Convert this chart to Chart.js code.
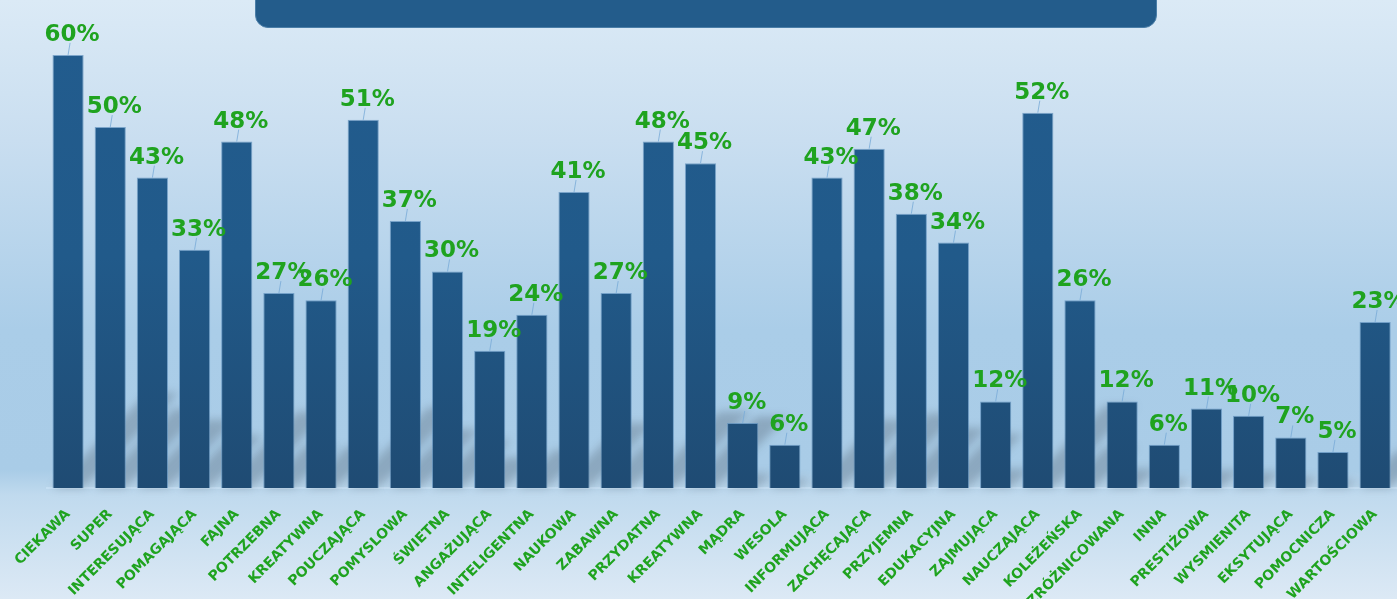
<!DOCTYPE html>
<html>
<head>
<meta charset="utf-8">
<script src="https://cdn.jsdelivr.net/npm/chart.js@4"></script>
<style>
  html, body { margin: 0; padding: 0; }
  body {
    width: 1397px; height: 599px; overflow: hidden; position: relative;
    background: linear-gradient(to bottom, #dbeaf6 0px, #c9def0 140px, #aacde8 330px, #a9cce7 470px, #c0daee 495px, #dce9f5 599px);
  }
  #titleBox {
    position: absolute; left: 255px; top: -14px; width: 900px; height: 40px;
    background: #235c8b; border: 1px solid #4a7ea8; border-radius: 13px;
  }
  #wrap { position: absolute; left: 0; top: 0; }
</style>
</head>
<body>
<div id="titleBox"></div>
<div id="wrap"><canvas id="chart" width="1397" height="599"></canvas></div>
<script>
// Categories and values (percent)
const categories = [
  'CIEKAWA', 'SUPER', 'INTERESUJĄCA', 'POMAGAJĄCA', 'FAJNA', 'POTRZEBNA', 'KREATYWNA',
  'POUCZAJĄCA', 'POMYSLOWA', 'ŚWIETNA', 'ANGAŻUJĄCA', 'INTELIGENTNA', 'NAUKOWA', 'ZABAWNA',
  'PRZYDATNA', 'KREATYWNA', 'MĄDRA', 'WESOLA', 'INFORMUJĄCA', 'ZACHĘCAJĄCA', 'PRZYJEMNA',
  'EDUKACYJNA', 'ZAJMUJĄCA', 'NAUCZAJĄCA', 'KOLEŻEŃSKA', 'ZRÓŻNICOWANA', 'INNA', 'PRESTIŻOWA',
  'WYSMIENITA', 'EKSYTUJĄCA', 'POMOCNICZA', 'WARTOŚCIOWA'
];
const values = [
  60, 50, 43, 33, 48, 27, 26,
  51, 37, 30, 19, 24, 41, 27,
  48, 45, 9, 6, 43, 47, 38,
  34, 12, 52, 26, 12, 6, 11,
  10, 7, 5, 23
];

const green = '#1fa31f';

// soft diagonal "floor" shadow behind each bar
const barShadows = {
  id: 'barShadows',
  beforeDatasetsDraw(chart) {
    const ctx = chart.ctx;
    const meta = chart.getDatasetMeta(0);
    ctx.save();
    ctx.filter = 'blur(4px)';
    ctx.fillStyle = 'rgba(80,95,110,0.33)';
    meta.data.forEach(bar => {
      const half = bar.width / 2;
      const d = (bar.base - bar.y) * 0.22;
      ctx.beginPath();
      ctx.moveTo(bar.x - half, bar.base);
      ctx.lineTo(bar.x + half, bar.base);
      ctx.lineTo(bar.x + half + d, bar.base - d);
      ctx.lineTo(bar.x - half + d, bar.base - d);
      ctx.closePath();
      ctx.fill();
    });
    ctx.restore();
  }
};

// value labels above the bars, with a short leader line
const valueLabels = {
  id: 'valueLabels',
  afterDatasetsDraw(chart) {
    const ctx = chart.ctx;
    const meta = chart.getDatasetMeta(0);
    ctx.save();
    ctx.font = 'bold 23px "DejaVu Sans", sans-serif';
    ctx.textAlign = 'center';
    ctx.textBaseline = 'alphabetic';
    meta.data.forEach((bar, i) => {
      const x = bar.x + 4;
      const y = bar.y - 12;
      ctx.strokeStyle = 'rgba(120,170,215,0.8)';
      ctx.lineWidth = 1;
      ctx.beginPath();
      ctx.moveTo(bar.x, bar.y);
      ctx.lineTo(bar.x + 2, y);
      ctx.stroke();
      ctx.fillStyle = green;
      ctx.fillText(values[i] + '%', x, y - 2);
    });
    ctx.restore();
  }
};

function barGradient(context) {
  const area = context.chart.chartArea;
  if (!area) return '#22598a';
  const g = context.chart.ctx.createLinearGradient(0, area.top, 0, area.bottom);
  g.addColorStop(0, '#225c8e');
  g.addColorStop(0.5, '#215a8a');
  g.addColorStop(1, '#1f4b73');
  return g;
}

function initializeChart() {
  const ctx = document.getElementById('chart').getContext('2d');
  new Chart(ctx, {
    type: 'bar',
    data: {
      labels: categories,
      datasets: [{
        data: values,
        backgroundColor: barGradient,
        borderColor: 'rgba(90,140,185,0.7)',
        borderWidth: 1,
        categoryPercentage: 0.74,
        barPercentage: 1.0
      }]
    },
    options: {
      responsive: false,
      animation: false,
      events: [],
      layout: { padding: { left: 47, right: 0, top: 26, bottom: 0 } },
      plugins: {
        legend: { display: false },
        tooltip: { enabled: false }
      },
      scales: {
        y: {
          display: false,
          min: 0,
          max: 64
        },
        x: {
          grid: { display: false },
          border: { display: true, color: 'rgba(200,225,245,0.9)', width: 2 },
          afterFit: scale => { scale.height = 111; },
          ticks: {
            color: green,
            minRotation: 45,
            maxRotation: 45,
            autoSkip: false,
            padding: 10,
            font: { family: '"DejaVu Sans", sans-serif', size: 14, weight: 'bold' }
          }
        }
      }
    },
    plugins: [barShadows, valueLabels]
  });
}

initializeChart();
</script>
</body>
</html>
